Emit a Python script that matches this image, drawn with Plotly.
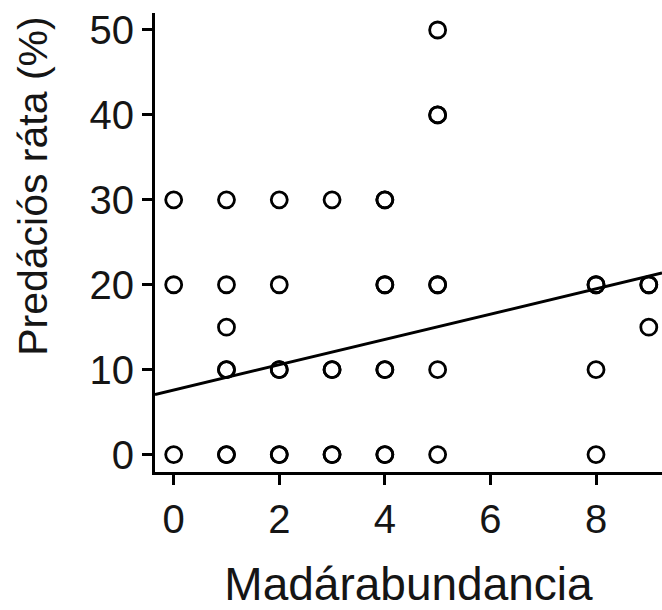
import plotly.graph_objects as go
import numpy as np

bird_abundance = [0, 0, 0,
                  1, 1, 1, 1, 1, 1, 1,
                  2, 2, 2, 2, 2, 2,
                  3, 3, 3, 3, 3,
                  4, 4, 4, 4, 4, 4, 4, 4,
                  5, 5, 5, 5, 5, 5, 5,
                  8, 8, 8, 8,
                  9, 9, 9]
predation_rate = [0, 20, 30,
                  0, 0, 10, 10, 15, 20, 30,
                  0, 0, 10, 10, 20, 30,
                  0, 0, 10, 10, 30,
                  0, 0, 10, 10, 20, 20, 30, 30,
                  0, 10, 20, 20, 40, 40, 50,
                  0, 10, 20, 20,
                  15, 20, 20]

# Regression line parameters
fit_intercept = 7.6
fit_slope = 1.49

x_ticks = [0, 2, 4, 6, 8]
y_ticks = [0, 10, 20, 30, 40, 50]
x_range = [-0.354, 9.25]
y_range = [-2.05, 52.0]

x_title = "Madárabundancia"
y_title = "Predációs ráta (%)"

line_x = np.array(x_range)
line_y = fit_intercept + fit_slope * line_x

FONT = "Liberation Sans, Arial, sans-serif"
INK = "#151515"

fig = go.Figure()
fig.add_trace(go.Scatter(
    x=line_x, y=line_y, mode="lines",
    line=dict(color="black", width=3),
    hoverinfo="skip", showlegend=False,
))
fig.add_trace(go.Scatter(
    x=bird_abundance, y=predation_rate, mode="markers",
    marker=dict(symbol="circle-open", size=16, color="black",
                line=dict(color="black", width=2.8)),
    showlegend=False, cliponaxis=False,
))

fig.update_layout(
    width=662, height=610,
    margin=dict(l=155, r=0, t=13, b=138),
    paper_bgcolor="white", plot_bgcolor="white",
    font=dict(family=FONT, color=INK),
)
fig.update_xaxes(
    range=x_range, tickvals=x_ticks, ticktext=[str(v) for v in x_ticks],
    showgrid=False, zeroline=False,
    showline=True, linecolor="black", linewidth=3,
    ticks="outside", ticklen=10, tickwidth=3, tickcolor="black",
    tickfont=dict(size=40, family=FONT, color=INK),
    title=dict(text=x_title, font=dict(size=46, family=FONT, color=INK), standoff=32),
)
fig.update_yaxes(
    range=y_range, tickvals=y_ticks, ticktext=[str(v) for v in y_ticks],
    showgrid=False, zeroline=False,
    showline=True, linecolor="black", linewidth=3,
    ticks="outside", ticklen=10, tickwidth=3, tickcolor="black",
    tickfont=dict(size=40, family=FONT, color=INK),
)
fig.add_annotation(
    text=y_title, textangle=-90, showarrow=False,
    xref="paper", yref="paper", x=-0.241, y=0.623,
    xanchor="center", yanchor="middle",
    font=dict(size=41, family=FONT, color=INK),
)

fig.write_html("out.html")
